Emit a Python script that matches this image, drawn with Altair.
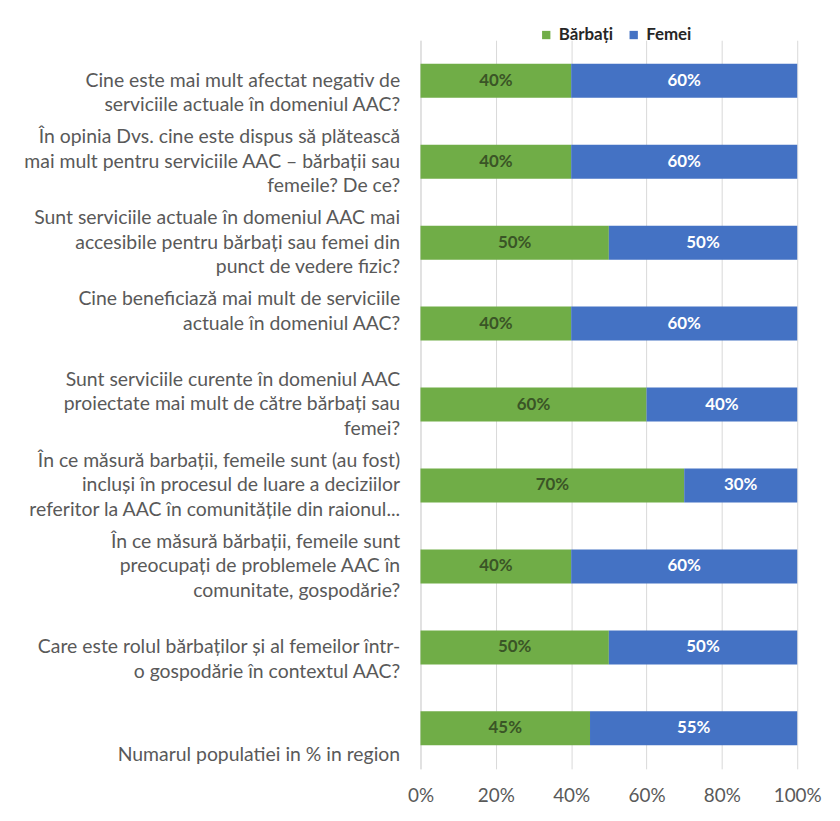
import altair as alt
import pandas as pd

questions = [
    "Cine este mai mult afectat negativ de\nserviciile actuale în domeniul AAC?",
    "În opinia Dvs. cine este dispus să plătească\nmai mult pentru serviciile AAC – bărbații sau\nfemeile? De ce?",
    "Sunt serviciile actuale în domeniul AAC mai\naccesibile pentru bărbați sau femei din\npunct de vedere fizic?",
    "Cine beneficiază mai mult de serviciile\nactuale în domeniul AAC?",
    "Sunt serviciile curente în domeniul AAC\nproiectate mai mult de către bărbați sau\nfemei?",
    "În ce măsură barbații, femeile sunt (au fost)\nincluși în procesul de luare a deciziilor\nreferitor la AAC în comunitățile din raionul...",
    "În ce măsură bărbații, femeile sunt\npreocupați de problemele AAC în\ncomunitate, gospodărie?",
    "Care este rolul bărbaților și al femeilor într-\no gospodărie în contextul AAC?",
    "Numarul populatiei in % in region",
]
barbati = [0.40, 0.40, 0.50, 0.40, 0.60, 0.70, 0.40, 0.50, 0.45]
femei = [0.60, 0.60, 0.50, 0.60, 0.40, 0.30, 0.60, 0.50, 0.55]
series = ["Bărbați", "Femei"]
colors = ["#70AD47", "#4472C4"]
x_ticks = [0, 0.2, 0.4, 0.6, 0.8, 1.0]

rows = []
for q, b, f in zip(questions, barbati, femei):
    rows.append({"q": q, "gen": series[0], "ord": 0, "v": b})
    rows.append({"q": q, "gen": series[1], "ord": 1, "v": f})
df = pd.DataFrame(rows)

FONT = "Lato"
LH = 24.5

base = alt.Chart(df).transform_window(
    cum="sum(v)", groupby=["q"], sort=[alt.SortField("ord")], frame=[None, 0]
).transform_calculate(
    start="datum.cum - datum.v", mid="datum.cum - datum.v / 2"
)

label_offset = {
    "condition": [
        {"test": "length(split(datum.value, '\\n')) >= 3", "value": -LH},
        {"test": "indexof(datum.value, 'Cine beneficiaz') == 0", "value": -LH},
        {"test": "length(split(datum.value, '\\n')) == 1", "value": 27},
    ],
    "value": 0,
}

y = alt.Y(
    "q:N",
    sort=questions,
    scale=alt.Scale(paddingInner=0.58, paddingOuter=0.29),
    axis=alt.Axis(
        title=None,
        labelExpr="split(datum.label, '\\n')",
        labelFont=FONT,
        labelFontSize=19.5,
        labelColor="#595959",
        labelLineHeight=LH,
        labelAlign="right",
        labelPadding=21,
        labelLimit=420,
        labelOffset=label_offset,
        ticks=False,
        domain=True,
        domainColor="#d9d9d9",
        minExtent=413,
        maxExtent=413,
    ),
)

bars = base.mark_bar().encode(
    x=alt.X(
        "start:Q",
        scale=alt.Scale(domain=[0, 1], nice=False),
        axis=alt.Axis(
            title=None,
            values=x_ticks,
            format=".0%",
            domain=False,
            ticks=False,
            grid=True,
            gridColor="#d9d9d9",
            labelFont=FONT,
            labelFontSize=19,
            labelColor="#595959",
            labelPadding=18,
            labelFlush=False,
        ),
    ),
    x2="cum:Q",
    y=y,
    color=alt.Color(
        "gen:N",
        scale=alt.Scale(domain=series, range=colors),
        legend=alt.Legend(
            title=None,
            orient="none",
            legendX=118,
            legendY=-14,
            direction="horizontal",
            symbolType="square",
            symbolSize=70,
            symbolStrokeWidth=0,
            labelFont=FONT,
            labelFontSize=17,
            labelFontWeight="bold",
            labelColor="#262626",
            columnPadding=12,
            labelOffset=4,
        ),
    ),
)

texts = base.mark_text(font=FONT, fontSize=17, fontWeight="bold").encode(
    x=alt.X("mid:Q"),
    y=y,
    text=alt.Text("v:Q", format=".0%"),
    color=alt.condition(alt.datum.gen == series[0], alt.value("#3a5526"), alt.value("white")),
)

chart = alt.layer(bars, texts).properties(
    width=379,
    height=733,
    padding={"left": 2, "top": 16, "right": 10, "bottom": 5},
    background="white",
).configure_view(stroke=None)

chart.save("out.html", embed_options={"renderer": "svg", "actions": False})
